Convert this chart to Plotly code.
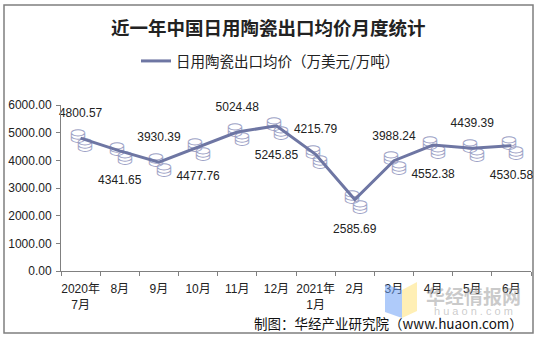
import plotly.graph_objects as go

months = ["2020年<br>7月", "8月", "9月", "10月", "11月", "12月",
          "2021年<br>1月", "2月", "3月", "4月", "5月", "6月"]
prices = [4800.57, 4341.65, 3930.39, 4477.76, 5024.48, 5245.85,
          4215.79, 2585.69, 3988.24, 4552.38, 4439.39, 4530.58]
label_pos = ["top center", "bottom center"] * 6
y_ticks = [0, 1000, 2000, 3000, 4000, 5000, 6000]

LINE = "#6e76a3"
COIN = "#9ea3c6"
W, H = 540, 338
L, R, T, B = 61, 9, 105, 67
pw, ph = W - L - R, H - T - B

def px(x):
    return (x - L) / pw

def py(y):
    return (H - B - y) / ph

fig = go.Figure()

# coin-stack markers (two stacks per point)
fig.add_trace(go.Scatter(x=months, y=prices, mode="text", text=["⛁ "] * len(prices),
                         textposition="middle center", textfont=dict(size=19, color=COIN),
                         showlegend=False, hoverinfo="skip", cliponaxis=False))
fig.add_trace(go.Scatter(x=months, y=prices, mode="text", text=["\u2002⛁"] * len(prices),
                         textposition="bottom center", textfont=dict(size=19, color=COIN),
                         showlegend=False, hoverinfo="skip", cliponaxis=False))

# line
fig.add_trace(go.Scatter(x=months, y=prices, mode="lines", name="日用陶瓷出口均价（万美元/万吨）",
                         line=dict(color=LINE, width=3), showlegend=True))

# data labels
label_sizes = [27 if p.startswith("top") else 37 for p in label_pos]
fig.add_trace(go.Scatter(x=months, y=prices, mode="markers+text",
                         text=[f"{v:.2f}" for v in prices], textposition=label_pos,
                         marker=dict(size=label_sizes, opacity=0), cliponaxis=False,
                         textfont=dict(family="Liberation Sans, Arial", size=12, color="#222222"),
                         showlegend=False, hoverinfo="skip"))

shapes = [
    dict(type="rect", xref="paper", yref="paper", x0=px(4), x1=px(533), y0=py(5), y1=py(333),
         line=dict(color="#7f7f7f", width=1.5), fillcolor="rgba(0,0,0,0)", layer="below"),
    # watermark logo
    dict(type="path", xref="paper", yref="paper",
         path=f"M {px(385)} {py(284)} L {px(402)} {py(290)} L {px(402)} {py(318)} L {px(385)} {py(312)} Z",
         fillcolor="rgba(110,160,245,0.55)", line=dict(width=0), layer="above"),
    dict(type="path", xref="paper", yref="paper",
         path=f"M {px(402)} {py(290)} L {px(417)} {py(282)} L {px(417)} {py(311)} L {px(402)} {py(318)} Z",
         fillcolor="rgba(255,225,120,0.55)", line=dict(width=0), layer="above"),
]

annotations = [
    dict(text="<b>近一年中国日用陶瓷出口均价月度统计</b>", xref="paper", yref="paper",
         x=px(268), y=py(27), showarrow=False, xanchor="center", yanchor="middle",
         font=dict(family="Noto Sans CJK SC", size=18.5, color="#222222")),
    dict(text="<b>华经情报网</b>", xref="paper", yref="paper", x=px(473), y=py(295), showarrow=False,
         xanchor="center", yanchor="middle",
         font=dict(family="Noto Sans CJK SC", size=19, color="rgba(150,150,150,0.5)")),
    dict(text="h u a o n . c o m", xref="paper", yref="paper", x=px(473), y=py(311), showarrow=False,
         xanchor="center", yanchor="middle",
         font=dict(family="Liberation Sans", size=11, color="rgba(170,170,170,0.6)")),
    dict(text="制图：华经产业研究院（www.huaon.com）", xref="paper", yref="paper",
         x=px(525), y=py(323), showarrow=False, xanchor="right", yanchor="middle",
         font=dict(family="Noto Sans CJK SC", size=13.5, color="#111111")),
]

fig.update_layout(
    width=W, height=H,
    margin=dict(l=L, r=R, t=T, b=B),
    paper_bgcolor="white", plot_bgcolor="white",
    font=dict(family="Liberation Sans, Noto Sans CJK SC", size=12, color="#222222"),
    showlegend=True,
    legend=dict(orientation="h", x=px(136), xanchor="left", y=py(61), yanchor="middle",
                font=dict(family="Noto Sans CJK SC", size=14.5, color="#222222"),
                bgcolor="rgba(0,0,0,0)", itemwidth=30),
    shapes=shapes, annotations=annotations,
    xaxis=dict(type="category", range=[-0.5, len(months) - 0.5], autorange=False,
               showgrid=False, showline=True, linecolor="#808080", linewidth=1,
               ticks="outside", tickson="boundaries", ticklen=4, tickcolor="#808080",
               tickangle=0, ticklabelstandoff=7,
               tickfont=dict(family="Liberation Sans, Noto Sans CJK SC", size=12, color="#222222"),
               fixedrange=True),
    yaxis=dict(range=[0, 6000], tickvals=y_ticks, tickformat=".2f", showgrid=False,
               showline=True, linecolor="#808080", linewidth=1, ticks="outside", ticklen=4,
               tickcolor="#808080", zeroline=False, ticklabelstandoff=2,
               tickfont=dict(family="Liberation Sans, Arial", size=12, color="#222222")),
)

fig.write_html("out.html")
